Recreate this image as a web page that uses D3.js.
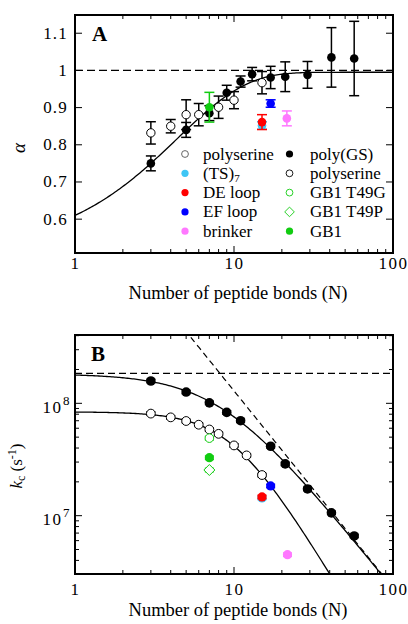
<!DOCTYPE html>
<html>
<head>
<meta charset="utf-8">
<script src="https://cdn.jsdelivr.net/npm/d3@7"></script>
<style>
  html, body { margin: 0; padding: 0; background: #fff; }
  svg { display: block; font-family: "Liberation Serif", "DejaVu Serif", serif; }
</style>
</head>
<body>
<svg id="chart" width="408" height="624"></svg>
<script>
// ---------- Panel A: alpha vs number of peptide bonds ----------
const gsN_A      = [3, 5, 7, 9, 11, 13, 17, 21, 29, 41, 57];
const gsAlpha    = [0.75, 0.84, 0.885, 0.94, 0.97, 0.99, 0.981, 0.983, 0.988, 1.035, 1.032];
const gsAlphaErr = [0.02, 0.02, 0.02, 0.02, 0.015, 0.018, 0.03, 0.04, 0.036, 0.08, 0.1];

const serN_A      = [3, 4, 5, 6, 8, 10, 15];
const serAlpha    = [0.832, 0.85, 0.881, 0.881, 0.901, 0.92, 0.967];
const serAlphaErr = [0.03, 0.018, 0.04, 0.03, 0.03, 0.023, 0.03];

// protein loops / GB1 in panel A: name, N, alpha, error
const loopNames_A = ["(TS)7", "DE loop", "EF loop", "brinker", "GB1"];
const loopN_A     = [15, 15, 17, 21.5, 7];
const loopAlpha   = [0.852, 0.861, 0.911, 0.871, 0.901];
const loopErr_A   = [0.01, 0.02, 0.01, 0.02, 0.04];

// fit curve for alpha(N): plateau, value at N=1, decay constant
const alphaFit = { inf: 0.995, first: 0.61, c: 4.42 };

// ---------- Panel B: kc vs number of peptide bonds ----------
const gsN_B  = [3, 5, 7, 9, 11, 17, 21, 29, 41, 57];
const gsKc   = [1.58e8, 1.26e8, 1.01e8, 8.3e7, 7.0e7, 4.15e7, 2.89e7, 1.73e7, 1.06e7, 6.6e6];

const serN_B = [3, 4, 5, 6, 7, 8, 10, 12, 15];
const serKc  = [8.1e7, 7.5e7, 6.96e7, 6.45e7, 5.85e7, 5.35e7, 4.22e7, 3.44e7, 2.3e7];

const loopNames_B = ["GB1 T49G", "GB1", "GB1 T49P", "(TS)7", "EF loop", "DE loop", "brinker"];
const loopN_B     = [7, 7, 7, 15, 17, 15, 21.7];
const loopKc      = [4.9e7, 3.28e7, 2.55e7, 1.44e7, 1.84e7, 1.47e7, 4.5e6];

// fit models: 1/kc = 1/k0 + 1/(A * N^-b)
const gsFit  = { k0: 1.83e8, A: 7.33e9, b: 1.754 };
const serFit = { k0: 8.4e7, A: 3.17e7 * Math.pow(15, 2.357), b: 2.357 };
const kcPlateau = 1.85e8;       // horizontal dashed limit
const scaling   = { A: 7.33e9, b: 1.754 };  // dashed power law

// ---------- styles ----------
const col = {
  "(TS)7": "#3ec6f5", "DE loop": "#ff0000", "EF loop": "#0000ff",
  "brinker": "#ff78ff", "GB1": "#11cc11", "GB1 T49G": "#11cc11", "GB1 T49P": "#11cc11"
};

const svg = d3.select("#chart");
const left = 75, right = 393;
const x = d3.scaleLog().domain([1, 100]).range([left, right]);

const xTickVals = [1, 10, 100];
const xMinor = [];
for (let d = 1; d < 100; d *= 10) for (let m = 2; m <= 9; m++) xMinor.push(d * m);

function frame(g, top, bottom, yScale, yMajor, yMinor, tickDy, titleDy) {
  // ticks on all four sides, pointing inward
  const tk = g.append("g").attr("stroke", "#000").attr("stroke-width", 1);
  xTickVals.forEach(v => {
    tk.append("line").attr("x1", x(v)).attr("x2", x(v)).attr("y1", bottom).attr("y2", bottom - 7);
    tk.append("line").attr("x1", x(v)).attr("x2", x(v)).attr("y1", top).attr("y2", top + 7);
  });
  xMinor.forEach(v => {
    tk.append("line").attr("x1", x(v)).attr("x2", x(v)).attr("y1", bottom).attr("y2", bottom - 4);
    tk.append("line").attr("x1", x(v)).attr("x2", x(v)).attr("y1", top).attr("y2", top + 4);
  });
  yMajor.forEach(v => {
    tk.append("line").attr("x1", left).attr("x2", left + 7).attr("y1", yScale(v)).attr("y2", yScale(v));
    tk.append("line").attr("x1", right).attr("x2", right - 7).attr("y1", yScale(v)).attr("y2", yScale(v));
  });
  yMinor.forEach(v => {
    tk.append("line").attr("x1", left).attr("x2", left + 4).attr("y1", yScale(v)).attr("y2", yScale(v));
    tk.append("line").attr("x1", right).attr("x2", right - 4).attr("y1", yScale(v)).attr("y2", yScale(v));
  });
  g.append("rect").attr("x", left).attr("y", top).attr("width", right - left).attr("height", bottom - top)
    .attr("fill", "none").attr("stroke", "#000").attr("stroke-width", 2);
  // x tick labels
  g.selectAll("text.xt").data(xTickVals).join("text").attr("class", "xt")
    .attr("x", d => x(d) + 0.5).attr("y", bottom + tickDy).attr("text-anchor", "middle")
    .attr("font-size", 17).attr("letter-spacing", 1.5).text(d => d);
  g.append("text").attr("x", (left + right) / 2 + 4).attr("y", bottom + titleDy)
    .attr("text-anchor", "middle").attr("font-size", 18.5).text("Number of peptide bonds (N)");
}

function errBars(g, data, xs, ys, color, hw) {
  const e = g.append("g").attr("stroke", color).attr("stroke-width", 1.5);
  data.forEach(d => {
    const cx = xs(d.n), y1 = ys(d.lo), y2 = ys(d.hi);
    e.append("line").attr("x1", cx).attr("x2", cx).attr("y1", y1).attr("y2", y2);
    e.append("line").attr("x1", cx - hw).attr("x2", cx + hw).attr("y1", y1).attr("y2", y1);
    e.append("line").attr("x1", cx - hw).attr("x2", cx + hw).attr("y1", y2).attr("y2", y2);
  });
}

// ================= Panel A =================
const topA = 15, botA = 253;
const yA = d3.scaleLinear().domain([0.509, 1.149]).range([botA, topA]);
const gA = svg.append("g");
gA.append("defs").append("clipPath").attr("id", "clipA")
  .append("rect").attr("x", left).attr("y", topA).attr("width", right - left).attr("height", botA - topA);

const yTicksA = [0.6, 0.7, 0.8, 0.9, 1.0, 1.1];
frame(gA, topA, botA, yA, yTicksA, [], 16, 45.5);
gA.selectAll("text.yt").data(yTicksA).join("text").attr("class", "yt")
  .attr("x", left - 7).attr("y", d => yA(d) + 5.5).attr("text-anchor", "end")
  .attr("font-size", 17).attr("letter-spacing", 1.2).text(d => d3.format("")(Math.round(d * 10) / 10));
gA.append("text").attr("transform", "translate(25,148) rotate(-90)")
  .attr("text-anchor", "middle").attr("font-size", 19).attr("font-style", "italic").text("α");
gA.append("text").attr("x", 92).attr("y", 41).attr("font-size", 21).attr("font-weight", "bold").text("A");

const plotA = gA.append("g").attr("clip-path", "url(#clipA)");
plotA.append("line").attr("x1", left).attr("x2", right).attr("y1", yA(1)).attr("y2", yA(1))
  .attr("stroke", "#000").attr("stroke-width", 1.3).attr("stroke-dasharray", "8,4");
const nGrid = d3.range(0, 2.0001, 0.01).map(p => Math.pow(10, p));
plotA.append("path")
  .attr("d", d3.line().x(n => x(n)).y(n => yA(alphaFit.inf - (alphaFit.inf - alphaFit.first) * Math.exp(-(n - 1) / alphaFit.c)))(nGrid))
  .attr("fill", "none").attr("stroke", "#000").attr("stroke-width", 1.3);

const serA = serN_A.map((n, i) => ({ n, v: serAlpha[i], lo: serAlpha[i] - serAlphaErr[i], hi: serAlpha[i] + serAlphaErr[i] }));
const gsA = gsN_A.map((n, i) => ({ n, v: gsAlpha[i], lo: gsAlpha[i] - gsAlphaErr[i], hi: gsAlpha[i] + gsAlphaErr[i] }));
errBars(plotA, serA, x, yA, "#000", 5);
errBars(plotA, gsA, x, yA, "#000", 5);
plotA.selectAll("circle.ser").data(serA).join("circle").attr("class", "ser")
  .attr("cx", d => x(d.n)).attr("cy", d => yA(d.v)).attr("r", 4.2)
  .attr("fill", "#fff").attr("stroke", "#000").attr("stroke-width", 1);
plotA.selectAll("circle.gs").data(gsA).join("circle").attr("class", "gs")
  .attr("cx", d => x(d.n)).attr("cy", d => yA(d.v)).attr("r", 4.3).attr("fill", "#000");

loopNames_A.forEach((name, i) => {
  const d = { n: loopN_A[i], v: loopAlpha[i], lo: loopAlpha[i] - loopErr_A[i], hi: loopAlpha[i] + loopErr_A[i] };
  errBars(plotA, [d], x, yA, col[name], 5);
  plotA.append("circle").attr("cx", x(d.n)).attr("cy", yA(d.v)).attr("r", 4.3).attr("fill", col[name]);
});

// legend
const legRows = [154, 173.3, 192.6, 211.9, 231.2];
const leg1 = [
  { t: "polyserine", type: "open", c: "#555" },
  { t: "(TS)", sub: "7", type: "fill", c: col["(TS)7"] },
  { t: "DE loop", type: "fill", c: col["DE loop"] },
  { t: "EF loop", type: "fill", c: col["EF loop"] },
  { t: "brinker", type: "fill", c: col["brinker"] }
];
const leg2 = [
  { t: "poly(GS)", type: "fill", c: "#000" },
  { t: "polyserine", type: "open", c: "#000" },
  { t: "GB1 T49G", type: "open", c: col["GB1 T49G"] },
  { t: "GB1 T49P", type: "diamond", c: col["GB1 T49P"] },
  { t: "GB1", type: "fill", c: col["GB1"] }
];
function legendMarker(g, cx, cy, item) {
  if (item.type === "fill") g.append("circle").attr("cx", cx).attr("cy", cy).attr("r", 3.6).attr("fill", item.c);
  else if (item.type === "open") g.append("circle").attr("cx", cx).attr("cy", cy).attr("r", 3.4)
    .attr("fill", "none").attr("stroke", item.c).attr("stroke-width", 0.9);
  else g.append("path").attr("d", `M${cx},${cy - 4.8}L${cx + 4.8},${cy}L${cx},${cy + 4.8}L${cx - 4.8},${cy}Z`)
    .attr("fill", "none").attr("stroke", item.c).attr("stroke-width", 0.9);
}
function legendCol(items, mx, tx) {
  items.forEach((it, i) => {
    legendMarker(gA, mx, legRows[i], it);
    const t = gA.append("text").attr("x", tx).attr("y", legRows[i] + 5.5).attr("font-size", 17).text(it.t);
    if (it.sub) t.append("tspan").attr("font-size", 11).attr("dy", 3).text(it.sub);
  });
}
legendCol(leg1, 185, 203);
legendCol(leg2, 289.5, 310);

// ================= Panel B =================
const topB = 335, botB = 574;
const yB = d3.scaleLog().domain([Math.pow(10, 6.481), Math.pow(10, 8.608)]).range([botB, topB]);
const gB = svg.append("g");
gB.append("defs").append("clipPath").attr("id", "clipB")
  .append("rect").attr("x", left).attr("y", topB).attr("width", right - left).attr("height", botB - topB);
const yMajorB = [1e7, 1e8];
const yMinorB = [];
[1e6, 1e7, 1e8].forEach(d => { for (let m = 2; m <= 9; m++) { const v = d * m; if (v > yB.domain()[0] && v < yB.domain()[1]) yMinorB.push(v); } });
frame(gB, topB, botB, yB, yMajorB, yMinorB, 21, 41.5);

yMajorB.forEach(v => {
  gB.append("text").attr("x", 62.5).attr("y", yB(v) + 9.5).attr("text-anchor", "end")
    .attr("font-size", 17).attr("letter-spacing", 1.5).text("10");
  gB.append("text").attr("x", 63).attr("y", yB(v) + 1.5).attr("font-size", 13).text(Math.round(Math.log10(v)));
});
const yl = gB.append("text").attr("transform", "translate(22,466) rotate(-90)")
  .attr("text-anchor", "middle").attr("font-size", 17);
yl.append("tspan").attr("font-style", "italic").text("k");
yl.append("tspan").attr("font-size", 12).attr("dy", 3).text("c");
yl.append("tspan").attr("dy", -3).text(" (s");
yl.append("tspan").attr("font-size", 12).attr("dy", -6).text("-1");
yl.append("tspan").attr("dy", 6).text(")");
gB.append("text").attr("x", 91).attr("y", 361).attr("font-size", 21).attr("font-weight", "bold").text("B");

const plotB = gB.append("g").attr("clip-path", "url(#clipB)");
plotB.append("line").attr("x1", left).attr("x2", right).attr("y1", yB(kcPlateau)).attr("y2", yB(kcPlateau))
  .attr("stroke", "#000").attr("stroke-width", 1.2).attr("stroke-dasharray", "7,4");
plotB.append("path")
  .attr("d", d3.line().x(n => x(n)).y(n => yB(scaling.A * Math.pow(n, -scaling.b)))(nGrid.filter(n => n >= 4)))
  .attr("fill", "none").attr("stroke", "#000").attr("stroke-width", 1.2).attr("stroke-dasharray", "6,4");
function fitKc(p, n) { return 1 / (1 / p.k0 + 1 / (p.A * Math.pow(n, -p.b))); }
[gsFit, serFit].forEach(p => {
  plotB.append("path")
    .attr("d", d3.line().x(n => x(n)).y(n => yB(fitKc(p, n)))(nGrid))
    .attr("fill", "none").attr("stroke", "#000").attr("stroke-width", 1.3);
});

const rel = 0.035;
const gsB = gsN_B.map((n, i) => ({ n, v: gsKc[i], lo: gsKc[i] * (1 - rel), hi: gsKc[i] * (1 + rel) }));
const serB = serN_B.map((n, i) => ({ n, v: serKc[i], lo: serKc[i] * (1 - rel), hi: serKc[i] * (1 + rel) }));
errBars(plotB, serB, x, yB, "#000", 4.5);
plotB.selectAll("circle.ser").data(serB).join("circle").attr("class", "ser")
  .attr("cx", d => x(d.n)).attr("cy", d => yB(d.v)).attr("r", 4.4)
  .attr("fill", "#fff").attr("stroke", "#000").attr("stroke-width", 1);
errBars(plotB, gsB, x, yB, "#000", 4.5);
plotB.selectAll("circle.gs").data(gsB).join("circle").attr("class", "gs")
  .attr("cx", d => x(d.n)).attr("cy", d => yB(d.v)).attr("r", 4.8).attr("fill", "#000");

loopNames_B.forEach((name, i) => {
  const d = { n: loopN_B[i], v: loopKc[i], lo: loopKc[i] * (1 - rel), hi: loopKc[i] * (1 + rel) };
  errBars(plotB, [d], x, yB, col[name], 4.5);
  const cx = x(d.n), cy = yB(d.v);
  if (name === "GB1 T49G") {
    plotB.append("circle").attr("cx", cx).attr("cy", cy).attr("r", 4.3).attr("fill", "#fff").attr("stroke", col[name]).attr("stroke-width", 1);
  } else if (name === "GB1 T49P") {
    plotB.append("path").attr("d", `M${cx},${cy - 5.5}L${cx + 5.5},${cy}L${cx},${cy + 5.5}L${cx - 5.5},${cy}Z`)
      .attr("fill", "#fff").attr("stroke", col[name]).attr("stroke-width", 1);
  } else {
    plotB.append("circle").attr("cx", cx).attr("cy", cy).attr("r", 4.6).attr("fill", col[name]);
  }
});
</script>
</body>
</html>
